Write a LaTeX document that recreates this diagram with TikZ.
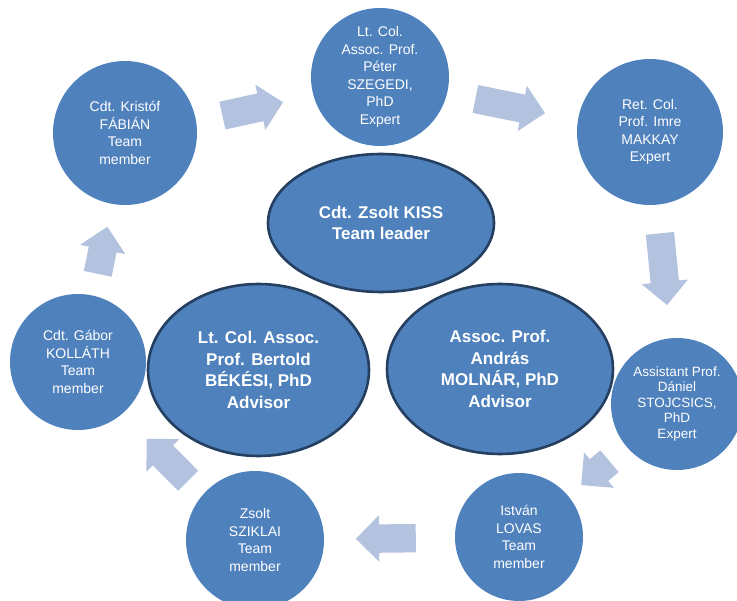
\documentclass[tikz,border=0pt]{standalone}
\usepackage{fontspec}
\setmainfont{Liberation Sans}
\usetikzlibrary{shapes.geometric,shapes.arrows,calc}

\definecolor{discblue}{HTML}{4F81BD}
\definecolor{rimnavy}{HTML}{243F60}
\definecolor{arrowgrey}{HTML}{B3C2DF}

\tikzset{
  member/.style={circle, fill=discblue, draw=none, inner sep=0pt,
    text=white, align=center, font=\fontsize{14}{17.5}\selectfont},
  leader/.style={ellipse, fill=discblue, draw=rimnavy, line width=2.6pt,
    inner sep=0pt, text=white, align=center,
    font=\fontsize{17}{21.5}\selectfont\bfseries},
  blockarrow/.style={single arrow, fill=arrowgrey, draw=none,
    inner xsep=0pt, inner ysep=14pt, minimum width=46pt,
    single arrow head extend=9pt, single arrow tip angle=90}
}

% block arrow centred halfway between two nodes, turned along the line joining them
\newcommand{\flowarrow}[4]{%
  \path let \p1=($(#2)-(#1)$), \n1={atan2(\y1,\x1)} in
    ($(#1)!0.5!(#2)$) ++(#4)
    node[blockarrow, minimum height=#3pt, rotate=\n1, xshift={-#3/2}, anchor=tail] {};}

\begin{document}
\begin{tikzpicture}[x=1pt,y=-1pt]
\useasboundingbox (0,0) rectangle (737,601);
\clip (0,0) rectangle (737,601);

% team members and experts around the ring
\node[member, minimum size=144] (fabian) at (125,133)
  {Cdt. Kristóf\\FÁBIÁN\\Team\\member};
\node[member, minimum size=138] (szegedi) at (380,77)
  {Lt. Col.\\Assoc. Prof.\\Péter\\SZEGEDI,\\PhD\\Expert};
\node[member, minimum size=146] (makkay) at (650,132)
  {Ret. Col.\\Prof. Imre\\MAKKAY\\Expert};
\node[member, minimum size=132, font=\fontsize{13.5}{15.5}\selectfont] (stojcsics) at (677,404)
  {Assistant Prof.\\Dániel\\STOJCSICS,\\PhD\\Expert};
\node[member, minimum size=128] (lovas) at (519,537)
  {István\\LOVAS\\Team\\member};
\node[member, minimum size=138] (sziklai) at (255,540)
  {Zsolt\\SZIKLAI\\Team\\member};
\node[member, minimum size=136] (kollath) at (78,362)
  {Cdt. Gábor\\KOLLÁTH\\Team\\member};

% leader and advisors in the middle
\node[leader, minimum width=226, minimum height=138] (kiss) at (381,223)
  {Cdt. Zsolt KISS\\Team leader};
\node[leader, minimum width=221, minimum height=172] (bekesi) at (258.5,370)
  {Lt. Col. Assoc.\\Prof. Bertold\\BÉKÉSI, PhD\\Advisor};
\node[leader, minimum width=226, minimum height=170] (molnar) at (500,369)
  {Assoc. Prof.\\András\\MOLNÁR, PhD\\Advisor};

% clockwise flow of block arrows
\flowarrow{fabian}{szegedi}{62}{0,4}
\flowarrow{szegedi}{makkay}{71}{-5,1.5}
\flowarrow{makkay}{stojcsics}{72}{0,1}
\flowarrow{stojcsics}{lovas}{37}{-2.5,2.5}
\flowarrow{lovas}{sziklai}{60}{-1,0}
\flowarrow{sziklai}{kollath}{59}{1,9}
\flowarrow{kollath}{fabian}{48}{1,3}
\end{tikzpicture}
\end{document}
